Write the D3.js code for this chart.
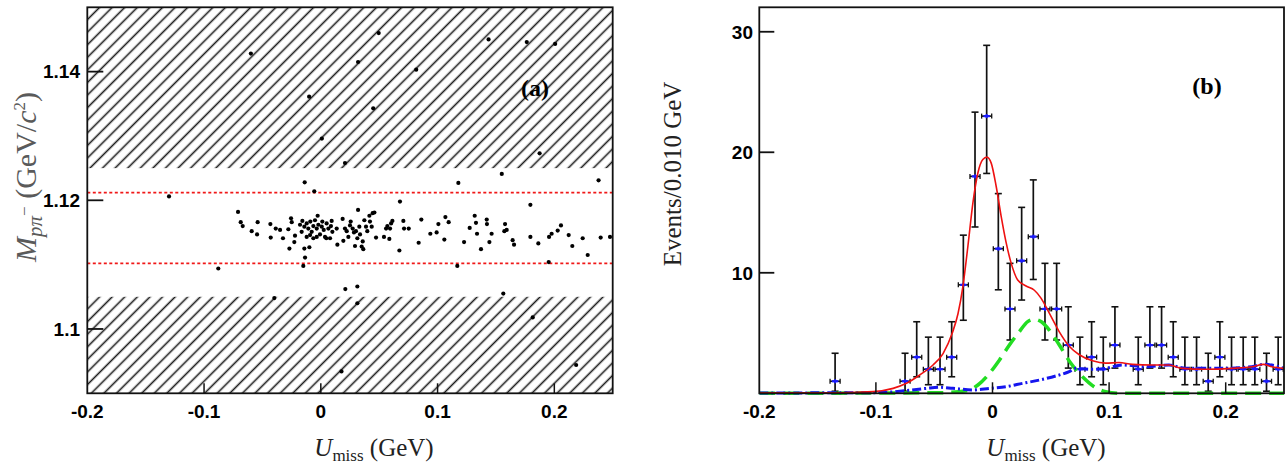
<!DOCTYPE html>
<html><head><meta charset="utf-8">
<script src="https://cdn.jsdelivr.net/npm/d3@7"></script>
<style>html,body{margin:0;padding:0;background:#fff;}svg{display:block;}</style>
</head><body>
<script>
// ---------- DATA ----------
// Panel (a): scatter of U_miss (GeV) vs M(p pi-) (GeV/c^2)
const scatterU = [
 -0.0599,0.0496,0.0319,0.0817,-0.0100,0.0449,0.0009,0.1437,0.1764,0.2007,0.1874,0.0207,
 -0.0138,-0.0056,-0.1300,0.1178,0.1550,0.2379,0.0210,0.0313,-0.0398,0.1563,0.0313,0.1815,0.0177,0.2187,
 -0.0709,-0.0686,-0.0669,-0.0878,
 -0.0592,-0.0546,-0.0541,-0.0432,-0.0429,-0.0386,-0.0349,-0.0324,-0.0278,-0.0255,-0.0249,-0.0221,-0.0227,-0.0269,-0.0141,-0.0098,-0.0135,-0.0150,-0.0027,
 -0.0178,-0.0158,-0.0141,-0.0121,-0.0107,-0.0090,-0.0078,-0.0064,-0.0050,-0.0035,-0.0021,-0.0007,0.0008,0.0025,0.0036,0.0050,0.0065,0.0087,0.0099,0.0079,-0.0121,-0.0092,-0.0164,-0.0064,-0.0035,0.0013,0.0047,
 0.0093,0.0136,0.0142,0.0187,0.0193,0.0207,0.0222,0.0236,0.0250,0.0256,0.0273,0.0284,0.0293,0.0301,0.0313,0.0319,0.0330,0.0336,0.0350,0.0359,0.0364,0.0373,0.0387,0.0398,0.0416,0.0421,0.0436,0.0444,0.0459,0.0473,0.0541,0.0559,0.0570,0.0587,0.0593,0.0602,0.0613,0.0673,0.0678,0.0707,0.0713,0.0753,
 0.0838,0.0861,0.0938,0.0992,0.1007,0.1058,0.1067,0.1095,0.1169,0.1227,0.1275,0.1318,0.1329,0.1338,0.1372,0.1421,0.1423,0.1444,0.1463,0.1578,0.1572,0.1592,0.1643,0.1655,0.1795,0.1795,0.1863,0.1952,0.1955,0.1977,0.2029,0.2057,0.2123,0.2154,0.2243,0.2286,0.2397,0.2477
];
const scatterM = [
 1.1428,1.1460,1.1415,1.1403,1.1361,1.1343,1.1296,1.1450,1.1446,1.1443,1.1273,1.1258,
 1.1228,1.1214,1.1206,1.1227,1.1241,1.1231,1.1062,1.1066,1.1048,1.1055,1.1040,1.1018,1.0934,1.0944,
 1.1182,1.1166,1.1160,1.1094,
 1.1152,1.1147,1.1166,1.1163,1.1142,1.1156,1.1154,1.1141,1.1155,1.1172,1.1166,1.1145,1.1135,1.1125,1.1125,1.1127,1.1111,1.1098,1.1176,
 1.1162,1.1168,1.1159,1.1164,1.1156,1.1167,1.1151,1.1160,1.1169,1.1156,1.1162,1.1147,1.1159,1.1154,1.1143,1.1164,1.1156,1.1160,1.1151,1.1141,1.1143,1.1146,1.1151,1.1141,1.1143,1.1167,1.1141,
 1.1168,1.1156,1.1131,1.1171,1.1137,1.1156,1.1152,1.1143,1.1161,1.1167,1.1156,1.1150,1.1129,1.1152,1.1141,1.1185,1.1159,1.1147,1.1128,1.1136,1.1124,1.1169,1.1159,1.1152,1.1176,1.1167,1.1159,1.1180,1.1181,1.1142,1.1143,1.1156,1.1160,1.1140,1.1156,1.1164,1.1168,1.1122,1.1198,1.1168,1.1156,1.1156,
 1.1134,1.1170,1.1148,1.1150,1.1163,1.1139,1.1174,1.1166,1.1098,1.1135,1.1157,1.1176,1.1165,1.1148,1.1124,1.1170,1.1163,1.1135,1.1148,1.1163,1.1152,1.1154,1.1138,1.1131,1.1193,1.1143,1.1133,1.1104,1.1143,1.1148,1.1153,1.1161,1.1146,1.1129,1.1141,1.1115,1.1142,1.1143
];
const vetoHigh = [1.125, 1.15];   // hatched band (top)
const vetoLow  = [1.09, 1.105];   // hatched band (bottom)
const cutLines = [1.1102, 1.1212]; // red dashed selection lines

const aXTicks = [-0.2, -0.1, 0, 0.1, 0.2];
const aXLabels = ["-0.2", "-0.1", "0", "0.1", "0.2"];
const aYTicks = [1.1, 1.12, 1.14];
const aYLabels = ["1.1", "1.12", "1.14"];

// Panel (b): histogram of U_miss, 0.010 GeV bins
const binCenters = [-0.195,-0.185,-0.175,-0.165,-0.155,-0.145,-0.135,-0.125,-0.115,-0.105,-0.095,-0.085,-0.075,-0.065,-0.055,-0.045,-0.035,-0.025,-0.015,-0.005,
 0.005,0.015,0.025,0.035,0.045,0.055,0.065,0.075,0.085,0.095,0.105,0.115,0.125,0.135,0.145,0.155,0.165,0.175,0.185,0.195,0.205,0.215,0.225,0.235,0.245];
const binCounts = [0,0,0,0,0,0,1,0,0,0,0,0,1,3,2,2,3,9,18,23,
 12,7,11,13,7,7,4,2,3,2,4,0,2,4,4,3,2,2,1,3,2,2,2,1,2];

// Fit curves
const totalU = [-0.2,-0.1308,-0.1023,-0.0852,-0.0738,-0.0624,-0.0510,-0.0424,-0.0345,-0.0296,-0.0254,-0.0211,-0.0168,-0.0125,-0.0083,-0.0048,-0.0011,0.0031,0.0074,0.0117,0.0160,0.0216,0.0288,0.0359,0.0416,0.0487,0.0573,0.0658,0.0744,0.0858,0.0971,0.1085,0.1199,0.1370,0.1513,0.1627,0.1826,0.2054,0.2225,0.2325,0.2396,0.25];
const totalY = [0.05,0.05,0.14,0.41,0.83,1.52,2.35,3.3,5.0,6.6,8.85,12.2,15.8,18.3,19.4,19.6,19.1,17.2,14.7,12.5,10.8,9.4,8.9,8.55,7.9,6.65,5.1,3.9,3.2,2.7,2.5,2.55,2.4,2.35,2.35,2.07,2.0,2.07,2.2,2.4,2.2,2.07];
const peakU = [-0.2,-0.0453,-0.0225,-0.0125,-0.0026,0.0060,0.0145,0.0231,0.0302,0.0359,0.0416,0.0487,0.0573,0.0672,0.0772,0.0872,0.0971,0.1085,0.25];
const peakY = [0,0.05,0.22,0.69,1.66,2.77,4.01,5.12,5.95,6.14,5.95,5.25,4.01,2.49,1.38,0.55,0.14,0,0];
const bkgU = [-0.2,-0.1023,-0.0738,-0.0567,-0.0453,-0.0339,-0.0168,-0.0026,0.0117,0.0259,0.0402,0.0544,0.0658,0.0715,0.0829,0.0971,0.1114,0.1313,0.1513,0.1655,0.1969,0.2225,0.2325,0.25];
const bkgY = [0.03,0.05,0.22,0.41,0.50,0.41,0.28,0.41,0.55,0.83,1.10,1.44,1.80,2.07,1.99,2.07,2.35,2.21,2.35,2.07,2.07,2.21,2.41,2.07];

const bXTicks = [-0.2, -0.1, 0, 0.1, 0.2];
const bXLabels = ["-0.2", "-0.1", "0", "0.1", "0.2"];
const bYTicks = [10, 20, 30];
const bYLabels = ["10", "20", "30"];

// ---------- DRAWING ----------
const W = 1286, H = 465;
const svg = d3.select("body").append("svg").attr("width", W).attr("height", H);
const defs = svg.append("defs");
const pat = defs.append("pattern").attr("id", "hatch").attr("patternUnits", "userSpaceOnUse")
  .attr("width", 8.9).attr("height", 8.9).attr("patternTransform", "rotate(45)");
pat.append("line").attr("x1", 4.45).attr("x2", 4.45).attr("y1", -1).attr("y2", 10)
  .attr("stroke", "#1c1c1c").attr("stroke-width", 1.6);

const sansBold = "'Liberation Sans', Arial, Helvetica, sans-serif";
const serif = "'Liberation Serif', 'Times New Roman', serif";

function frame(g, x0, x1, y0, y1) {
  g.append("rect").attr("x", x0).attr("y", y0).attr("width", x1 - x0).attr("height", y1 - y0)
    .attr("fill", "none").attr("stroke", "#111").attr("stroke-width", 1.8);
}
function xTicks(g, sc, ticks, labels, yb, len) {
  ticks.forEach((t, i) => {
    if (i > 0) g.append("line").attr("x1", sc(t)).attr("x2", sc(t)).attr("y1", yb).attr("y2", yb - len)
      .attr("stroke", "#111").attr("stroke-width", 1.5);
    g.append("text").attr("x", sc(t)).attr("y", yb + 25).attr("text-anchor", "middle")
      .attr("font-family", sansBold).attr("font-weight", "bold").attr("font-size", 19).text(labels[i]);
  });
}
function yTicks(g, sc, ticks, labels, xl, len, lx) {
  ticks.forEach((t, i) => {
    g.append("line").attr("x1", xl).attr("x2", xl + len).attr("y1", sc(t)).attr("y2", sc(t))
      .attr("stroke", "#111").attr("stroke-width", 1.8);
    g.append("text").attr("x", lx).attr("y", sc(t)).attr("dy", "0.36em").attr("text-anchor", "end")
      .attr("font-family", sansBold).attr("font-weight", "bold").attr("font-size", 19).text(labels[i]);
  });
}
function xTitle(g, cx, y) {
  const t = g.append("text").attr("x", cx).attr("y", y).attr("text-anchor", "middle")
    .attr("font-family", serif).attr("font-size", 25).attr("fill", "#222");
  t.append("tspan").attr("font-style", "italic").text("U");
  t.append("tspan").attr("font-size", 17).attr("dy", 5).text("miss");
  t.append("tspan").attr("dy", -5).text(" (GeV)");
}

// ---- Panel (a) ----
const A = {x0: 87.3, x1: 612.7, y0: 7.3, y1: 393.3};
const xA = d3.scaleLinear().domain([-0.2, 0.25]).range([A.x0, A.x1]);
const yA = d3.scaleLinear().domain([1.09, 1.15]).range([A.y1, A.y0]);
const ga = svg.append("g");
[vetoHigh, vetoLow].forEach(b => {
  ga.append("rect").attr("x", A.x0).attr("width", A.x1 - A.x0)
    .attr("y", yA(b[1])).attr("height", yA(b[0]) - yA(b[1])).attr("fill", "url(#hatch)");
});
cutLines.forEach(v => {
  ga.append("line").attr("x1", A.x0).attr("x2", A.x1).attr("y1", yA(v)).attr("y2", yA(v))
    .attr("stroke", "#f01818").attr("stroke-width", 1.6).attr("stroke-dasharray", "3,2.5");
});
ga.selectAll("circle.pt").data(scatterU.map((u, i) => [u, scatterM[i]])).enter().append("circle")
  .attr("cx", d => xA(d[0])).attr("cy", d => yA(d[1])).attr("r", 2.1).attr("fill", "#000");
frame(ga, A.x0, A.x1, A.y0, A.y1);
xTicks(ga, xA, aXTicks, aXLabels, A.y1, 10);
yTicks(ga, yA, aYTicks, aYLabels, A.x0, 16, 80);
xTitle(ga, 374, 456);
{
  const t = ga.append("text").attr("transform", "translate(36,177) rotate(-90)").attr("text-anchor", "middle")
    .attr("font-family", serif).attr("font-size", 30).attr("fill", "#5a5a5a");
  t.append("tspan").attr("font-style", "italic").text("M");
  t.append("tspan").attr("font-style", "italic").attr("font-size", 21).attr("dy", 6).text("pπ");
  t.append("tspan").attr("font-size", 17).attr("dy", -12).text("−");
  t.append("tspan").attr("dy", 6).text(" (GeV/");
  t.append("tspan").attr("font-style", "italic").text("c");
  t.append("tspan").attr("font-size", 17).attr("dy", -11).text("2");
  t.append("tspan").attr("dy", 11).text(")");
}
ga.append("text").attr("x", 535).attr("y", 96).attr("text-anchor", "middle")
  .attr("font-family", serif).attr("font-weight", "bold").attr("font-size", 24).text("(a)");

// ---- Panel (b) ----
const B = {x0: 759.3, x1: 1284, y0: 7.3, y1: 393.3};
const xB = d3.scaleLinear().domain([-0.2, 0.25]).range([B.x0, B.x1]);
const yB = d3.scaleLinear().domain([0, 32.03]).range([B.y1, B.y0]);
const gb = svg.append("g");
defs.append("clipPath").attr("id", "clipB").append("rect")
  .attr("x", B.x0).attr("y", B.y0).attr("width", B.x1 - B.x0).attr("height", B.y1 - B.y0 + 3);

// data points with asymmetric Poisson (Gehrels) intervals
const bins = binCenters.map((c, i) => ({c: c, n: binCounts[i]})).filter(d => d.n > 0);
bins.forEach(d => {
  const n = d.n;
  d.hi = n + Math.sqrt(n + 0.75) + 1;
  d.lo = n * Math.pow(1 - 1 / (9 * n) - 1 / (3 * Math.sqrt(n)), 3);
});
const gp = gb.append("g");
bins.forEach(d => {
  const x = xB(d.c), y = yB(d.n), yh = yB(d.hi), yl = yB(d.lo);
  const xl = xB(d.c - 0.005) + 0.8, xr = xB(d.c + 0.005) - 0.8;
  gp.append("line").attr("x1", x).attr("x2", x).attr("y1", yh).attr("y2", yl).attr("stroke", "#111").attr("stroke-width", 1.7);
  [yh, yl].forEach(yy => gp.append("line").attr("x1", x - 3.5).attr("x2", x + 3.5).attr("y1", yy).attr("y2", yy).attr("stroke", "#111").attr("stroke-width", 1.6));
  gp.append("line").attr("x1", xl).attr("x2", xr).attr("y1", y).attr("y2", y).attr("stroke", "#111").attr("stroke-width", 1.6);
  [xl, xr].forEach(xx => gp.append("line").attr("x1", xx).attr("x2", xx).attr("y1", y - 2.5).attr("y2", y + 2.5).attr("stroke", "#111").attr("stroke-width", 1.3));
  gp.append("line").attr("x1", x - 3.2).attr("x2", x + 3.2).attr("y1", y).attr("y2", y).attr("stroke", "#1a1aff").attr("stroke-width", 2.2);
  gp.append("line").attr("x1", x).attr("x2", x).attr("y1", y - 2).attr("y2", y + 2).attr("stroke", "#1a1aff").attr("stroke-width", 2);
});

const gc = gb.append("g").attr("clip-path", "url(#clipB)");
const mk = (us, ys) => d3.line().x(d => xB(d[0])).y(d => yB(d[1])).curve(d3.curveMonotoneX)(us.map((u, i) => [u, ys[i]]));
gc.append("path").attr("d", mk(peakU, peakY)).attr("fill", "none").attr("stroke", "#22dd22")
  .attr("stroke-width", 3.5).attr("stroke-dasharray", "16,8");
gc.append("path").attr("d", mk(bkgU, bkgY)).attr("fill", "none").attr("stroke", "#1515ee")
  .attr("stroke-width", 3).attr("stroke-dasharray", "9,3,2,3");
gc.append("path").attr("d", mk(totalU, totalY)).attr("fill", "none").attr("stroke", "#ee1111")
  .attr("stroke-width", 1.6);

frame(gb, B.x0, B.x1, B.y0, B.y1);
xTicks(gb, xB, bXTicks, bXLabels, B.y1, 11);
yTicks(gb, yB, bYTicks, bYLabels, B.x0, 15, 753);
xTitle(gb, 1046, 456);
gb.append("text").attr("transform", "translate(681,174) rotate(-90)").attr("text-anchor", "middle")
  .attr("font-family", serif).attr("font-size", 25).attr("fill", "#222").text("Events/0.010 GeV");
gb.append("text").attr("x", 1207).attr("y", 94).attr("text-anchor", "middle")
  .attr("font-family", serif).attr("font-weight", "bold").attr("font-size", 24).text("(b)");
</script>
</body></html>
